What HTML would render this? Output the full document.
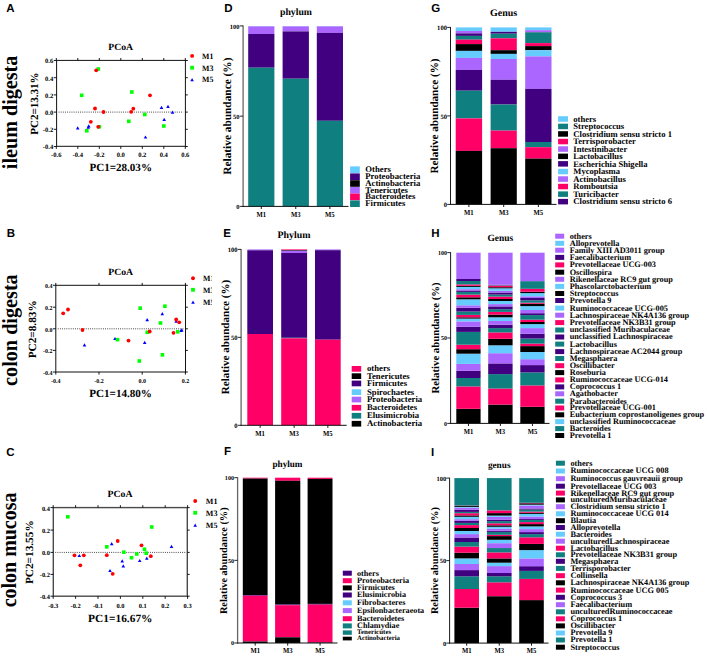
<!DOCTYPE html>
<html><head><meta charset="utf-8"><title>Figure</title>
<style>html,body{margin:0;padding:0;background:#fff}svg{display:block}</style></head>
<body><svg width="708" height="656" viewBox="0 0 708 656" text-rendering="geometricPrecision">
<rect width="708" height="656" fill="#fff"/>
<text x="6.3" y="11.7" font-size="11.5" font-family="Liberation Sans, sans-serif" font-weight="bold">A</text>
<text x="17.3" y="112.4" font-size="21.5" font-family="Liberation Serif, serif" font-weight="bold" text-anchor="middle" textLength="113.6" lengthAdjust="spacingAndGlyphs" transform="rotate(-90 17.3 112.4)">ileum digesta</text>
<rect x="56.6" y="60.4" width="128.8" height="85.9" fill="none" stroke="#111" stroke-width="1.0"/>
<line x1="58.60" y1="112.10" x2="183.40" y2="112.10" stroke="#222" stroke-width="0.9" stroke-dasharray="0.9 1.25"/>
<line x1="56.30" y1="146.30" x2="56.30" y2="148.90" stroke="#000" stroke-width="0.9"/>
<line x1="56.30" y1="60.40" x2="56.30" y2="58.00" stroke="#000" stroke-width="0.9"/>
<text x="56.3" y="156.70000000000002" font-size="6.6" font-family="Liberation Serif, serif" font-weight="bold" text-anchor="middle">-0.6</text>
<line x1="77.80" y1="146.30" x2="77.80" y2="148.90" stroke="#000" stroke-width="0.9"/>
<line x1="77.80" y1="60.40" x2="77.80" y2="58.00" stroke="#000" stroke-width="0.9"/>
<text x="77.8" y="156.70000000000002" font-size="6.6" font-family="Liberation Serif, serif" font-weight="bold" text-anchor="middle">-0.4</text>
<line x1="99.30" y1="146.30" x2="99.30" y2="148.90" stroke="#000" stroke-width="0.9"/>
<line x1="99.30" y1="60.40" x2="99.30" y2="58.00" stroke="#000" stroke-width="0.9"/>
<text x="99.3" y="156.70000000000002" font-size="6.6" font-family="Liberation Serif, serif" font-weight="bold" text-anchor="middle">-0.2</text>
<line x1="120.80" y1="146.30" x2="120.80" y2="148.90" stroke="#000" stroke-width="0.9"/>
<line x1="120.80" y1="60.40" x2="120.80" y2="58.00" stroke="#000" stroke-width="0.9"/>
<text x="120.8" y="156.70000000000002" font-size="6.6" font-family="Liberation Serif, serif" font-weight="bold" text-anchor="middle">0.0</text>
<line x1="142.30" y1="146.30" x2="142.30" y2="148.90" stroke="#000" stroke-width="0.9"/>
<line x1="142.30" y1="60.40" x2="142.30" y2="58.00" stroke="#000" stroke-width="0.9"/>
<text x="142.3" y="156.70000000000002" font-size="6.6" font-family="Liberation Serif, serif" font-weight="bold" text-anchor="middle">0.2</text>
<line x1="163.80" y1="146.30" x2="163.80" y2="148.90" stroke="#000" stroke-width="0.9"/>
<line x1="163.80" y1="60.40" x2="163.80" y2="58.00" stroke="#000" stroke-width="0.9"/>
<text x="163.8" y="156.70000000000002" font-size="6.6" font-family="Liberation Serif, serif" font-weight="bold" text-anchor="middle">0.4</text>
<line x1="185.30" y1="146.30" x2="185.30" y2="148.90" stroke="#000" stroke-width="0.9"/>
<line x1="185.30" y1="60.40" x2="185.30" y2="58.00" stroke="#000" stroke-width="0.9"/>
<text x="185.3" y="156.70000000000002" font-size="6.6" font-family="Liberation Serif, serif" font-weight="bold" text-anchor="middle">0.6</text>
<line x1="56.60" y1="60.50" x2="53.80" y2="60.50" stroke="#000" stroke-width="0.9"/>
<line x1="185.40" y1="60.50" x2="187.80" y2="60.50" stroke="#000" stroke-width="0.9"/>
<text x="53.2" y="63.39999999999999" font-size="6.6" font-family="Liberation Serif, serif" font-weight="bold" text-anchor="end">0.6</text>
<line x1="56.60" y1="77.70" x2="53.80" y2="77.70" stroke="#000" stroke-width="0.9"/>
<line x1="185.40" y1="77.70" x2="187.80" y2="77.70" stroke="#000" stroke-width="0.9"/>
<text x="53.2" y="80.6" font-size="6.6" font-family="Liberation Serif, serif" font-weight="bold" text-anchor="end">0.4</text>
<line x1="56.60" y1="94.90" x2="53.80" y2="94.90" stroke="#000" stroke-width="0.9"/>
<line x1="185.40" y1="94.90" x2="187.80" y2="94.90" stroke="#000" stroke-width="0.9"/>
<text x="53.2" y="97.8" font-size="6.6" font-family="Liberation Serif, serif" font-weight="bold" text-anchor="end">0.2</text>
<line x1="56.60" y1="112.10" x2="53.80" y2="112.10" stroke="#000" stroke-width="0.9"/>
<line x1="185.40" y1="112.10" x2="187.80" y2="112.10" stroke="#000" stroke-width="0.9"/>
<text x="53.2" y="115.0" font-size="6.6" font-family="Liberation Serif, serif" font-weight="bold" text-anchor="end">0.0</text>
<line x1="56.60" y1="129.30" x2="53.80" y2="129.30" stroke="#000" stroke-width="0.9"/>
<line x1="185.40" y1="129.30" x2="187.80" y2="129.30" stroke="#000" stroke-width="0.9"/>
<text x="53.2" y="132.2" font-size="6.6" font-family="Liberation Serif, serif" font-weight="bold" text-anchor="end">-0.2</text>
<line x1="56.60" y1="146.50" x2="53.80" y2="146.50" stroke="#000" stroke-width="0.9"/>
<line x1="185.40" y1="146.50" x2="187.80" y2="146.50" stroke="#000" stroke-width="0.9"/>
<text x="53.2" y="149.4" font-size="6.6" font-family="Liberation Serif, serif" font-weight="bold" text-anchor="end">-0.4</text>
<text x="108.3" y="49.8" font-size="9.6" font-family="Liberation Serif, serif" font-weight="bold" textLength="24.8" lengthAdjust="spacingAndGlyphs">PCoA</text>
<text x="89.4" y="170.6" font-size="11" font-family="Liberation Serif, serif" font-weight="bold" textLength="62.6" lengthAdjust="spacingAndGlyphs">PC1=28.03%</text>
<text x="37.7" y="103.6" font-size="11" font-family="Liberation Serif, serif" font-weight="bold" text-anchor="middle" textLength="62.3" lengthAdjust="spacingAndGlyphs" transform="rotate(-90 37.7 103.6)">PC2=13.31%</text>
<circle cx="192.10" cy="55.90" r="1.95" fill="#ff0000"/>
<text x="202.0" y="58.8" font-size="8.2" font-family="Liberation Serif, serif" font-weight="bold" textLength="11.3" lengthAdjust="spacingAndGlyphs">M1</text>
<rect x="190.20" y="65.80" width="3.8" height="3.8" fill="#00ff00"/>
<text x="202.0" y="70.8" font-size="8.2" font-family="Liberation Serif, serif" font-weight="bold" textLength="11.3" lengthAdjust="spacingAndGlyphs">M3</text>
<polygon points="190.30,81.30 193.90,81.30 192.10,78.10" fill="#0000ff"/>
<text x="202.0" y="82.3" font-size="8.2" font-family="Liberation Serif, serif" font-weight="bold" textLength="11.3" lengthAdjust="spacingAndGlyphs">M5</text>
<rect x="96.50" y="67.20" width="3.6" height="3.6" fill="#00ff00"/>
<rect x="79.90" y="93.50" width="3.6" height="3.6" fill="#00ff00"/>
<rect x="130.00" y="90.20" width="3.6" height="3.6" fill="#00ff00"/>
<rect x="143.00" y="112.70" width="3.6" height="3.6" fill="#00ff00"/>
<rect x="127.00" y="119.50" width="3.6" height="3.6" fill="#00ff00"/>
<rect x="85.00" y="129.00" width="3.6" height="3.6" fill="#00ff00"/>
<rect x="162.00" y="124.20" width="3.6" height="3.6" fill="#00ff00"/>
<rect x="97.50" y="125.00" width="3.6" height="3.6" fill="#00ff00"/>
<polygon points="75.90,129.40 79.50,129.40 77.70,126.20" fill="#0000ff"/>
<polygon points="87.00,127.40 90.60,127.40 88.80,124.20" fill="#0000ff"/>
<polygon points="86.40,128.80 90.00,128.80 88.20,125.60" fill="#0000ff"/>
<polygon points="159.70,109.00 163.30,109.00 161.50,105.80" fill="#0000ff"/>
<polygon points="166.20,107.90 169.80,107.90 168.00,104.70" fill="#0000ff"/>
<polygon points="170.70,113.80 174.30,113.80 172.50,110.60" fill="#0000ff"/>
<polygon points="162.40,121.00 166.00,121.00 164.20,117.80" fill="#0000ff"/>
<polygon points="143.70,138.60 147.30,138.60 145.50,135.40" fill="#0000ff"/>
<circle cx="96.20" cy="70.30" r="1.9" fill="#ff0000"/>
<circle cx="150.00" cy="95.30" r="1.9" fill="#ff0000"/>
<circle cx="95.00" cy="108.50" r="1.9" fill="#ff0000"/>
<circle cx="103.50" cy="112.00" r="1.9" fill="#ff0000"/>
<circle cx="133.30" cy="108.70" r="1.9" fill="#ff0000"/>
<circle cx="131.20" cy="111.80" r="1.9" fill="#ff0000"/>
<circle cx="90.80" cy="121.80" r="1.9" fill="#ff0000"/>
<circle cx="98.20" cy="126.80" r="1.9" fill="#ff0000"/>
<text x="6.8" y="236.7" font-size="11.5" font-family="Liberation Sans, sans-serif" font-weight="bold">B</text>
<text x="16.7" y="330.1" font-size="21.5" font-family="Liberation Serif, serif" font-weight="bold" text-anchor="middle" textLength="111.6" lengthAdjust="spacingAndGlyphs" transform="rotate(-90 16.7 330.1)">colon digesta</text>
<rect x="55.8" y="285.3" width="129.7" height="86.69999999999999" fill="none" stroke="#111" stroke-width="1.0"/>
<line x1="57.80" y1="328.80" x2="183.50" y2="328.80" stroke="#222" stroke-width="0.9" stroke-dasharray="0.9 1.25"/>
<line x1="55.80" y1="372.00" x2="55.80" y2="374.60" stroke="#000" stroke-width="0.9"/>
<line x1="55.80" y1="285.30" x2="55.80" y2="282.90" stroke="#000" stroke-width="0.9"/>
<text x="55.8" y="382.7" font-size="6.0" font-family="Liberation Serif, serif" font-weight="bold" text-anchor="middle">-0.4</text>
<line x1="99.00" y1="372.00" x2="99.00" y2="374.60" stroke="#000" stroke-width="0.9"/>
<line x1="99.00" y1="285.30" x2="99.00" y2="282.90" stroke="#000" stroke-width="0.9"/>
<text x="99.0" y="382.7" font-size="6.0" font-family="Liberation Serif, serif" font-weight="bold" text-anchor="middle">-0.2</text>
<line x1="142.20" y1="372.00" x2="142.20" y2="374.60" stroke="#000" stroke-width="0.9"/>
<line x1="142.20" y1="285.30" x2="142.20" y2="282.90" stroke="#000" stroke-width="0.9"/>
<text x="142.2" y="382.7" font-size="6.0" font-family="Liberation Serif, serif" font-weight="bold" text-anchor="middle">0.0</text>
<line x1="185.40" y1="372.00" x2="185.40" y2="374.60" stroke="#000" stroke-width="0.9"/>
<line x1="185.40" y1="285.30" x2="185.40" y2="282.90" stroke="#000" stroke-width="0.9"/>
<text x="185.4" y="382.7" font-size="6.0" font-family="Liberation Serif, serif" font-weight="bold" text-anchor="middle">0.2</text>
<line x1="55.80" y1="285.30" x2="53.00" y2="285.30" stroke="#000" stroke-width="0.9"/>
<line x1="185.50" y1="285.30" x2="187.90" y2="285.30" stroke="#000" stroke-width="0.9"/>
<text x="52.4" y="288.2" font-size="6.0" font-family="Liberation Serif, serif" font-weight="bold" text-anchor="end">0.4</text>
<line x1="55.80" y1="307.20" x2="53.00" y2="307.20" stroke="#000" stroke-width="0.9"/>
<line x1="185.50" y1="307.20" x2="187.90" y2="307.20" stroke="#000" stroke-width="0.9"/>
<text x="52.4" y="310.09999999999997" font-size="6.0" font-family="Liberation Serif, serif" font-weight="bold" text-anchor="end">0.2</text>
<line x1="55.80" y1="328.80" x2="53.00" y2="328.80" stroke="#000" stroke-width="0.9"/>
<line x1="185.50" y1="328.80" x2="187.90" y2="328.80" stroke="#000" stroke-width="0.9"/>
<text x="52.4" y="331.7" font-size="6.0" font-family="Liberation Serif, serif" font-weight="bold" text-anchor="end">0.0</text>
<line x1="55.80" y1="350.40" x2="53.00" y2="350.40" stroke="#000" stroke-width="0.9"/>
<line x1="185.50" y1="350.40" x2="187.90" y2="350.40" stroke="#000" stroke-width="0.9"/>
<text x="52.4" y="353.29999999999995" font-size="6.0" font-family="Liberation Serif, serif" font-weight="bold" text-anchor="end">-0.2</text>
<line x1="55.80" y1="372.00" x2="53.00" y2="372.00" stroke="#000" stroke-width="0.9"/>
<line x1="185.50" y1="372.00" x2="187.90" y2="372.00" stroke="#000" stroke-width="0.9"/>
<text x="52.4" y="374.9" font-size="6.0" font-family="Liberation Serif, serif" font-weight="bold" text-anchor="end">-0.4</text>
<text x="108.3" y="274.8" font-size="9.6" font-family="Liberation Serif, serif" font-weight="bold" textLength="24.8" lengthAdjust="spacingAndGlyphs">PCoA</text>
<text x="89.2" y="396.5" font-size="11" font-family="Liberation Serif, serif" font-weight="bold" textLength="62.8" lengthAdjust="spacingAndGlyphs">PC1=14.80%</text>
<text x="36.4" y="329.3" font-size="11" font-family="Liberation Serif, serif" font-weight="bold" text-anchor="middle" textLength="58.0" lengthAdjust="spacingAndGlyphs" transform="rotate(-90 36.4 329.3)">PC2=8.83%</text>
<clipPath id="clipB"><rect x="0" y="0" width="211.9" height="656"/></clipPath>
<circle cx="193.00" cy="278.20" r="1.95" fill="#ff0000"/>
<text x="203.0" y="281.0" font-size="8.2" font-family="Liberation Serif, serif" font-weight="bold" textLength="11.3" lengthAdjust="spacingAndGlyphs" clip-path="url(#clipB)">M1</text>
<rect x="191.10" y="287.90" width="3.8" height="3.8" fill="#00ff00"/>
<text x="203.0" y="292.8" font-size="8.2" font-family="Liberation Serif, serif" font-weight="bold" textLength="11.3" lengthAdjust="spacingAndGlyphs" clip-path="url(#clipB)">M3</text>
<polygon points="191.20,303.80 194.80,303.80 193.00,300.60" fill="#0000ff"/>
<text x="203.0" y="304.7" font-size="8.2" font-family="Liberation Serif, serif" font-weight="bold" textLength="11.3" lengthAdjust="spacingAndGlyphs" clip-path="url(#clipB)">M5</text>
<polygon points="82.70,346.40 86.30,346.40 84.50,343.20" fill="#0000ff"/>
<polygon points="113.20,340.10 116.80,340.10 115.00,336.90" fill="#0000ff"/>
<polygon points="145.40,321.30 149.00,321.30 147.20,318.10" fill="#0000ff"/>
<polygon points="142.90,344.00 146.50,344.00 144.70,340.80" fill="#0000ff"/>
<polygon points="160.50,315.30 164.10,315.30 162.30,312.10" fill="#0000ff"/>
<polygon points="174.40,322.80 178.00,322.80 176.20,319.60" fill="#0000ff"/>
<polygon points="180.00,331.40 183.60,331.40 181.80,328.20" fill="#0000ff"/>
<polygon points="179.20,332.10 182.80,332.10 181.00,328.90" fill="#0000ff"/>
<rect x="115.70" y="337.90" width="3.6" height="3.6" fill="#00ff00"/>
<rect x="138.40" y="306.40" width="3.6" height="3.6" fill="#00ff00"/>
<rect x="163.10" y="304.40" width="3.6" height="3.6" fill="#00ff00"/>
<rect x="158.70" y="321.20" width="3.6" height="3.6" fill="#00ff00"/>
<rect x="145.40" y="330.50" width="3.6" height="3.6" fill="#00ff00"/>
<rect x="137.50" y="359.20" width="3.6" height="3.6" fill="#00ff00"/>
<rect x="160.60" y="353.00" width="3.6" height="3.6" fill="#00ff00"/>
<rect x="175.90" y="330.00" width="3.6" height="3.6" fill="#00ff00"/>
<circle cx="63.20" cy="313.30" r="1.9" fill="#ff0000"/>
<circle cx="68.00" cy="309.50" r="1.9" fill="#ff0000"/>
<circle cx="82.50" cy="330.00" r="1.9" fill="#ff0000"/>
<circle cx="128.50" cy="340.60" r="1.9" fill="#ff0000"/>
<circle cx="149.70" cy="331.50" r="1.9" fill="#ff0000"/>
<circle cx="176.20" cy="319.50" r="1.9" fill="#ff0000"/>
<circle cx="179.20" cy="322.30" r="1.9" fill="#ff0000"/>
<circle cx="173.50" cy="332.80" r="1.9" fill="#ff0000"/>
<text x="6.3" y="455.6" font-size="11.5" font-family="Liberation Sans, sans-serif" font-weight="bold">C</text>
<text x="16.4" y="549.95" font-size="21.5" font-family="Liberation Serif, serif" font-weight="bold" text-anchor="middle" textLength="114.8" lengthAdjust="spacingAndGlyphs" transform="rotate(-90 16.4 549.95)">colon mucosa</text>
<rect x="53.3" y="507.6" width="134.0" height="88.60000000000002" fill="none" stroke="#4a4a4a" stroke-width="1.4"/>
<line x1="55.30" y1="552.40" x2="185.30" y2="552.40" stroke="#222" stroke-width="0.9" stroke-dasharray="0.9 1.25"/>
<line x1="53.20" y1="596.20" x2="53.20" y2="598.80" stroke="#000" stroke-width="0.9"/>
<line x1="53.20" y1="507.60" x2="53.20" y2="505.20" stroke="#000" stroke-width="0.9"/>
<text x="53.2" y="607.5" font-size="6.4" font-family="Liberation Serif, serif" font-weight="bold" text-anchor="middle">-0.3</text>
<line x1="75.60" y1="596.20" x2="75.60" y2="598.80" stroke="#000" stroke-width="0.9"/>
<line x1="75.60" y1="507.60" x2="75.60" y2="505.20" stroke="#000" stroke-width="0.9"/>
<text x="75.6" y="607.5" font-size="6.4" font-family="Liberation Serif, serif" font-weight="bold" text-anchor="middle">-0.2</text>
<line x1="98.00" y1="596.20" x2="98.00" y2="598.80" stroke="#000" stroke-width="0.9"/>
<line x1="98.00" y1="507.60" x2="98.00" y2="505.20" stroke="#000" stroke-width="0.9"/>
<text x="98.0" y="607.5" font-size="6.4" font-family="Liberation Serif, serif" font-weight="bold" text-anchor="middle">-0.1</text>
<line x1="120.40" y1="596.20" x2="120.40" y2="598.80" stroke="#000" stroke-width="0.9"/>
<line x1="120.40" y1="507.60" x2="120.40" y2="505.20" stroke="#000" stroke-width="0.9"/>
<text x="120.4" y="607.5" font-size="6.4" font-family="Liberation Serif, serif" font-weight="bold" text-anchor="middle">0.0</text>
<line x1="142.80" y1="596.20" x2="142.80" y2="598.80" stroke="#000" stroke-width="0.9"/>
<line x1="142.80" y1="507.60" x2="142.80" y2="505.20" stroke="#000" stroke-width="0.9"/>
<text x="142.8" y="607.5" font-size="6.4" font-family="Liberation Serif, serif" font-weight="bold" text-anchor="middle">0.1</text>
<line x1="165.20" y1="596.20" x2="165.20" y2="598.80" stroke="#000" stroke-width="0.9"/>
<line x1="165.20" y1="507.60" x2="165.20" y2="505.20" stroke="#000" stroke-width="0.9"/>
<text x="165.20000000000002" y="607.5" font-size="6.4" font-family="Liberation Serif, serif" font-weight="bold" text-anchor="middle">0.2</text>
<line x1="187.60" y1="596.20" x2="187.60" y2="598.80" stroke="#000" stroke-width="0.9"/>
<line x1="187.60" y1="507.60" x2="187.60" y2="505.20" stroke="#000" stroke-width="0.9"/>
<text x="187.60000000000002" y="607.5" font-size="6.4" font-family="Liberation Serif, serif" font-weight="bold" text-anchor="middle">0.3</text>
<line x1="53.30" y1="507.60" x2="50.50" y2="507.60" stroke="#000" stroke-width="0.9"/>
<line x1="187.30" y1="507.60" x2="189.70" y2="507.60" stroke="#000" stroke-width="0.9"/>
<text x="49.9" y="510.5" font-size="6.4" font-family="Liberation Serif, serif" font-weight="bold" text-anchor="end">0.4</text>
<line x1="53.30" y1="530.10" x2="50.50" y2="530.10" stroke="#000" stroke-width="0.9"/>
<line x1="187.30" y1="530.10" x2="189.70" y2="530.10" stroke="#000" stroke-width="0.9"/>
<text x="49.9" y="533.0" font-size="6.4" font-family="Liberation Serif, serif" font-weight="bold" text-anchor="end">0.2</text>
<line x1="53.30" y1="552.40" x2="50.50" y2="552.40" stroke="#000" stroke-width="0.9"/>
<line x1="187.30" y1="552.40" x2="189.70" y2="552.40" stroke="#000" stroke-width="0.9"/>
<text x="49.9" y="555.3" font-size="6.4" font-family="Liberation Serif, serif" font-weight="bold" text-anchor="end">0.0</text>
<line x1="53.30" y1="574.40" x2="50.50" y2="574.40" stroke="#000" stroke-width="0.9"/>
<line x1="187.30" y1="574.40" x2="189.70" y2="574.40" stroke="#000" stroke-width="0.9"/>
<text x="49.9" y="577.3" font-size="6.4" font-family="Liberation Serif, serif" font-weight="bold" text-anchor="end">-0.2</text>
<line x1="53.30" y1="596.20" x2="50.50" y2="596.20" stroke="#000" stroke-width="0.9"/>
<line x1="187.30" y1="596.20" x2="189.70" y2="596.20" stroke="#000" stroke-width="0.9"/>
<text x="49.9" y="599.1" font-size="6.4" font-family="Liberation Serif, serif" font-weight="bold" text-anchor="end">-0.4</text>
<text x="107.5" y="496.8" font-size="9.6" font-family="Liberation Serif, serif" font-weight="bold" textLength="25" lengthAdjust="spacingAndGlyphs">PCoA</text>
<text x="88.1" y="621.5" font-size="11" font-family="Liberation Serif, serif" font-weight="bold" textLength="64.4" lengthAdjust="spacingAndGlyphs">PC1=16.67%</text>
<text x="33.5" y="552.2" font-size="11" font-family="Liberation Serif, serif" font-weight="bold" text-anchor="middle" textLength="63.8" lengthAdjust="spacingAndGlyphs" transform="rotate(-90 33.5 552.2)">PC2=13.55%</text>
<circle cx="195.20" cy="501.00" r="1.95" fill="#ff0000"/>
<text x="205.8" y="503.7" font-size="8.2" font-family="Liberation Serif, serif" font-weight="bold" textLength="11.7" lengthAdjust="spacingAndGlyphs">M1</text>
<rect x="193.30" y="510.90" width="3.8" height="3.8" fill="#00ff00"/>
<text x="205.8" y="515.7" font-size="8.2" font-family="Liberation Serif, serif" font-weight="bold" textLength="11.7" lengthAdjust="spacingAndGlyphs">M3</text>
<polygon points="193.40,526.80 197.00,526.80 195.20,523.60" fill="#0000ff"/>
<text x="205.8" y="527.7" font-size="8.2" font-family="Liberation Serif, serif" font-weight="bold" textLength="11.7" lengthAdjust="spacingAndGlyphs">M5</text>
<rect x="66.00" y="515.00" width="3.6" height="3.6" fill="#00ff00"/>
<rect x="105.00" y="545.00" width="3.6" height="3.6" fill="#00ff00"/>
<rect x="122.00" y="550.40" width="3.6" height="3.6" fill="#00ff00"/>
<rect x="129.70" y="555.90" width="3.6" height="3.6" fill="#00ff00"/>
<rect x="135.00" y="552.20" width="3.6" height="3.6" fill="#00ff00"/>
<rect x="142.70" y="547.40" width="3.6" height="3.6" fill="#00ff00"/>
<rect x="144.40" y="551.40" width="3.6" height="3.6" fill="#00ff00"/>
<rect x="149.90" y="525.20" width="3.6" height="3.6" fill="#00ff00"/>
<polygon points="77.50,557.10 81.10,557.10 79.30,553.90" fill="#0000ff"/>
<polygon points="109.90,545.30 113.50,545.30 111.70,542.10" fill="#0000ff"/>
<polygon points="108.20,572.10 111.80,572.10 110.00,568.90" fill="#0000ff"/>
<polygon points="120.40,562.40 124.00,562.40 122.20,559.20" fill="#0000ff"/>
<polygon points="121.50,567.40 125.10,567.40 123.30,564.20" fill="#0000ff"/>
<polygon points="137.90,562.10 141.50,562.10 139.70,558.90" fill="#0000ff"/>
<polygon points="145.00,559.80 148.60,559.80 146.80,556.60" fill="#0000ff"/>
<polygon points="169.70,547.90 173.30,547.90 171.50,544.70" fill="#0000ff"/>
<circle cx="74.50" cy="555.30" r="1.9" fill="#ff0000"/>
<circle cx="83.80" cy="555.30" r="1.9" fill="#ff0000"/>
<circle cx="80.30" cy="565.30" r="1.9" fill="#ff0000"/>
<circle cx="106.80" cy="555.20" r="1.9" fill="#ff0000"/>
<circle cx="117.70" cy="541.00" r="1.9" fill="#ff0000"/>
<circle cx="112.70" cy="573.80" r="1.9" fill="#ff0000"/>
<circle cx="141.50" cy="545.30" r="1.9" fill="#ff0000"/>
<circle cx="150.80" cy="556.20" r="1.9" fill="#ff0000"/>
<text x="224.2" y="11.7" font-size="11.5" font-family="Liberation Sans, sans-serif" font-weight="bold">D</text>
<text x="280" y="14.7" font-size="9.8" font-family="Liberation Serif, serif" font-weight="bold" textLength="32" lengthAdjust="spacingAndGlyphs">phylum</text>
<rect x="248.20" y="26.00" width="26.20" height="0.40" fill="#66ccfe"/>
<rect x="248.20" y="26.40" width="26.20" height="7.60" fill="#aa66ff"/>
<rect x="248.20" y="34.00" width="26.20" height="33.70" fill="#40007f"/>
<rect x="248.20" y="67.70" width="26.20" height="138.70" fill="#107f80"/>
<rect x="282.60" y="26.00" width="26.30" height="0.40" fill="#66ccfe"/>
<rect x="282.60" y="26.40" width="26.30" height="5.00" fill="#aa66ff"/>
<rect x="282.60" y="31.40" width="26.30" height="47.30" fill="#40007f"/>
<rect x="282.60" y="78.70" width="26.30" height="127.70" fill="#107f80"/>
<rect x="316.80" y="26.00" width="26.20" height="0.40" fill="#66ccfe"/>
<rect x="316.80" y="26.40" width="26.20" height="6.50" fill="#aa66ff"/>
<rect x="316.80" y="32.90" width="26.20" height="87.90" fill="#40007f"/>
<rect x="316.80" y="120.80" width="26.20" height="85.60" fill="#107f80"/>
<line x1="243.10" y1="25.50" x2="243.10" y2="206.90" stroke="#666" stroke-width="1.3"/>
<line x1="242.60" y1="206.40" x2="348.50" y2="206.40" stroke="#111" stroke-width="1.0"/>
<line x1="243.10" y1="25.90" x2="239.80" y2="25.90" stroke="#111" stroke-width="0.9"/>
<text x="239.6" y="28.799999999999997" font-size="6.5" font-family="Liberation Serif, serif" font-weight="bold" text-anchor="end">100</text>
<line x1="243.10" y1="116.15" x2="239.80" y2="116.15" stroke="#111" stroke-width="0.9"/>
<text x="239.6" y="119.05000000000001" font-size="6.5" font-family="Liberation Serif, serif" font-weight="bold" text-anchor="end">50</text>
<line x1="243.10" y1="206.40" x2="239.80" y2="206.40" stroke="#111" stroke-width="0.9"/>
<text x="239.6" y="209.3" font-size="6.5" font-family="Liberation Serif, serif" font-weight="bold" text-anchor="end">0</text>
<line x1="261.30" y1="206.40" x2="261.30" y2="209.00" stroke="#000" stroke-width="0.9"/>
<text x="261.29999999999995" y="216.70000000000002" font-size="7.6" font-family="Liberation Serif, serif" font-weight="bold" text-anchor="middle" textLength="9.6" lengthAdjust="spacingAndGlyphs">M1</text>
<line x1="295.75" y1="206.40" x2="295.75" y2="209.00" stroke="#000" stroke-width="0.9"/>
<text x="295.75" y="216.70000000000002" font-size="7.6" font-family="Liberation Serif, serif" font-weight="bold" text-anchor="middle" textLength="9.6" lengthAdjust="spacingAndGlyphs">M3</text>
<line x1="329.90" y1="206.40" x2="329.90" y2="209.00" stroke="#000" stroke-width="0.9"/>
<text x="329.9" y="216.70000000000002" font-size="7.6" font-family="Liberation Serif, serif" font-weight="bold" text-anchor="middle" textLength="9.6" lengthAdjust="spacingAndGlyphs">M5</text>
<text x="230.6" y="116.15" font-size="11.3" font-family="Liberation Serif, serif" font-weight="bold" text-anchor="middle" textLength="117.2" lengthAdjust="spacingAndGlyphs" transform="rotate(-90 230.6 116.15)">Relative abundance (%)</text>
<rect x="350.10" y="166.40" width="9.70" height="6.60" fill="#66ccfe"/>
<text x="365.3" y="172.0" font-size="8.7" font-family="Liberation Serif, serif" font-weight="bold">Others</text>
<rect x="350.10" y="173.40" width="9.70" height="6.60" fill="#40007f"/>
<text x="365.3" y="179.0" font-size="8.7" font-family="Liberation Serif, serif" font-weight="bold" textLength="55" lengthAdjust="spacingAndGlyphs">Proteobacteria</text>
<rect x="350.10" y="180.20" width="9.70" height="6.60" fill="#000000"/>
<text x="365.3" y="185.8" font-size="8.7" font-family="Liberation Serif, serif" font-weight="bold">Actinobacteria</text>
<rect x="350.10" y="187.00" width="9.70" height="6.60" fill="#aa66ff"/>
<text x="365.3" y="192.6" font-size="8.7" font-family="Liberation Serif, serif" font-weight="bold">Tenericutes</text>
<rect x="350.10" y="193.60" width="9.70" height="6.60" fill="#ff0066"/>
<text x="365.3" y="199.2" font-size="8.7" font-family="Liberation Serif, serif" font-weight="bold">Bacteroidetes</text>
<rect x="350.10" y="200.40" width="9.70" height="6.60" fill="#107f80"/>
<text x="365.3" y="206.0" font-size="8.7" font-family="Liberation Serif, serif" font-weight="bold">Firmicutes</text>
<text x="223.2" y="237.0" font-size="11.5" font-family="Liberation Sans, sans-serif" font-weight="bold">E</text>
<text x="277.5" y="237.7" font-size="9.8" font-family="Liberation Serif, serif" font-weight="bold" textLength="33" lengthAdjust="spacingAndGlyphs">Phylum</text>
<rect x="247.30" y="249.40" width="25.70" height="0.90" fill="#aa66ff"/>
<rect x="247.30" y="250.30" width="25.70" height="83.70" fill="#40007f"/>
<rect x="247.30" y="334.00" width="25.70" height="91.30" fill="#ff0066"/>
<rect x="281.20" y="249.40" width="25.90" height="0.70" fill="#ff0066"/>
<rect x="281.20" y="250.10" width="25.90" height="0.70" fill="#000000"/>
<rect x="281.20" y="250.80" width="25.90" height="2.20" fill="#aa66ff"/>
<rect x="281.20" y="253.00" width="25.90" height="84.80" fill="#40007f"/>
<rect x="281.20" y="337.80" width="25.90" height="0.50" fill="#107f80"/>
<rect x="281.20" y="338.30" width="25.90" height="87.00" fill="#ff0066"/>
<rect x="315.00" y="249.40" width="25.70" height="0.80" fill="#aa66ff"/>
<rect x="315.00" y="250.20" width="25.70" height="89.50" fill="#40007f"/>
<rect x="315.00" y="339.70" width="25.70" height="85.60" fill="#ff0066"/>
<line x1="241.10" y1="249.00" x2="241.10" y2="425.80" stroke="#666" stroke-width="1.3"/>
<line x1="240.60" y1="425.30" x2="346.70" y2="425.30" stroke="#111" stroke-width="1.0"/>
<line x1="241.10" y1="249.40" x2="237.80" y2="249.40" stroke="#111" stroke-width="0.9"/>
<text x="237.6" y="251.8" font-size="6.6" font-family="Liberation Serif, serif" font-weight="bold" text-anchor="end">100</text>
<line x1="241.10" y1="337.35" x2="237.80" y2="337.35" stroke="#111" stroke-width="0.9"/>
<text x="237.6" y="339.75" font-size="6.6" font-family="Liberation Serif, serif" font-weight="bold" text-anchor="end">50</text>
<line x1="241.10" y1="425.30" x2="237.80" y2="425.30" stroke="#111" stroke-width="0.9"/>
<text x="237.6" y="427.7" font-size="6.6" font-family="Liberation Serif, serif" font-weight="bold" text-anchor="end">0</text>
<line x1="260.15" y1="425.30" x2="260.15" y2="427.90" stroke="#000" stroke-width="0.9"/>
<text x="260.15" y="435.7" font-size="7.6" font-family="Liberation Serif, serif" font-weight="bold" text-anchor="middle" textLength="9.6" lengthAdjust="spacingAndGlyphs">M1</text>
<line x1="294.15" y1="425.30" x2="294.15" y2="427.90" stroke="#000" stroke-width="0.9"/>
<text x="294.15" y="435.7" font-size="7.6" font-family="Liberation Serif, serif" font-weight="bold" text-anchor="middle" textLength="9.6" lengthAdjust="spacingAndGlyphs">M3</text>
<line x1="327.85" y1="425.30" x2="327.85" y2="427.90" stroke="#000" stroke-width="0.9"/>
<text x="327.85" y="435.7" font-size="7.6" font-family="Liberation Serif, serif" font-weight="bold" text-anchor="middle" textLength="9.6" lengthAdjust="spacingAndGlyphs">M5</text>
<text x="228.7" y="337.0" font-size="11.0" font-family="Liberation Serif, serif" font-weight="bold" text-anchor="middle" textLength="114.4" lengthAdjust="spacingAndGlyphs" transform="rotate(-90 228.7 337.0)">Relative abundance (%)</text>
<rect x="351.70" y="366.00" width="9.50" height="5.70" fill="#ff0066"/>
<text x="367.0" y="371.4" font-size="8.7" font-family="Liberation Serif, serif" font-weight="bold">others</text>
<rect x="351.70" y="373.30" width="9.50" height="5.70" fill="#000000"/>
<text x="367.0" y="378.7" font-size="8.7" font-family="Liberation Serif, serif" font-weight="bold">Tenericutes</text>
<rect x="351.70" y="380.60" width="9.50" height="5.70" fill="#40007f"/>
<text x="367.0" y="386.0" font-size="8.7" font-family="Liberation Serif, serif" font-weight="bold">Firmicutes</text>
<rect x="351.70" y="389.30" width="9.50" height="5.70" fill="#66ccfe"/>
<text x="367.0" y="394.7" font-size="8.7" font-family="Liberation Serif, serif" font-weight="bold">Spirochaetes</text>
<rect x="351.70" y="396.70" width="9.50" height="5.70" fill="#aa66ff"/>
<text x="367.0" y="402.1" font-size="8.7" font-family="Liberation Serif, serif" font-weight="bold" textLength="55.2" lengthAdjust="spacingAndGlyphs">Proteobacteria</text>
<rect x="351.70" y="404.90" width="9.50" height="5.70" fill="#ff0066"/>
<text x="367.0" y="410.3" font-size="8.7" font-family="Liberation Serif, serif" font-weight="bold">Bacteroidetes</text>
<rect x="351.70" y="412.90" width="9.50" height="5.70" fill="#107f80"/>
<text x="367.0" y="418.3" font-size="8.7" font-family="Liberation Serif, serif" font-weight="bold">Elusimicrobia</text>
<rect x="351.70" y="420.90" width="9.50" height="5.70" fill="#000000"/>
<text x="367.0" y="426.3" font-size="8.7" font-family="Liberation Serif, serif" font-weight="bold">Actinobacteria</text>
<text x="224.1" y="455.4" font-size="11.5" font-family="Liberation Sans, sans-serif" font-weight="bold">F</text>
<text x="272.5" y="467.25" font-size="9.3" font-family="Liberation Serif, serif" font-weight="bold" textLength="30" lengthAdjust="spacingAndGlyphs">phylum</text>
<rect x="242.80" y="477.70" width="24.80" height="0.90" fill="#ff0066"/>
<rect x="242.80" y="478.60" width="24.80" height="116.40" fill="#000000"/>
<rect x="242.80" y="595.00" width="24.80" height="0.70" fill="#40007f"/>
<rect x="242.80" y="595.70" width="24.80" height="45.80" fill="#ff0066"/>
<rect x="242.80" y="641.50" width="24.80" height="1.50" fill="#000000"/>
<rect x="275.10" y="477.70" width="25.20" height="3.10" fill="#ff0066"/>
<rect x="275.10" y="480.80" width="25.20" height="123.70" fill="#000000"/>
<rect x="275.10" y="604.50" width="25.20" height="0.70" fill="#40007f"/>
<rect x="275.10" y="605.20" width="25.20" height="32.10" fill="#ff0066"/>
<rect x="275.10" y="637.30" width="25.20" height="5.70" fill="#000000"/>
<rect x="307.60" y="477.70" width="24.90" height="1.20" fill="#ff0066"/>
<rect x="307.60" y="478.90" width="24.90" height="125.00" fill="#000000"/>
<rect x="307.60" y="603.90" width="24.90" height="0.70" fill="#40007f"/>
<rect x="307.60" y="604.60" width="24.90" height="38.00" fill="#ff0066"/>
<rect x="307.60" y="642.60" width="24.90" height="0.40" fill="#000000"/>
<line x1="237.60" y1="477.30" x2="237.60" y2="643.50" stroke="#666" stroke-width="1.3"/>
<line x1="237.10" y1="643.00" x2="337.50" y2="643.00" stroke="#111" stroke-width="1.0"/>
<line x1="237.60" y1="477.70" x2="234.30" y2="477.70" stroke="#111" stroke-width="0.9"/>
<text x="234.1" y="480.09999999999997" font-size="6.2" font-family="Liberation Serif, serif" font-weight="bold" text-anchor="end">100</text>
<line x1="237.60" y1="560.35" x2="234.30" y2="560.35" stroke="#111" stroke-width="0.9"/>
<text x="234.1" y="562.75" font-size="6.2" font-family="Liberation Serif, serif" font-weight="bold" text-anchor="end">50</text>
<line x1="237.60" y1="643.00" x2="234.30" y2="643.00" stroke="#111" stroke-width="0.9"/>
<text x="234.1" y="645.4" font-size="6.2" font-family="Liberation Serif, serif" font-weight="bold" text-anchor="end">0</text>
<line x1="255.20" y1="643.00" x2="255.20" y2="645.60" stroke="#000" stroke-width="0.9"/>
<text x="255.20000000000002" y="653.0999999999999" font-size="7.6" font-family="Liberation Serif, serif" font-weight="bold" text-anchor="middle" textLength="9.6" lengthAdjust="spacingAndGlyphs">M1</text>
<line x1="287.70" y1="643.00" x2="287.70" y2="645.60" stroke="#000" stroke-width="0.9"/>
<text x="287.70000000000005" y="653.0999999999999" font-size="7.6" font-family="Liberation Serif, serif" font-weight="bold" text-anchor="middle" textLength="9.6" lengthAdjust="spacingAndGlyphs">M3</text>
<line x1="320.05" y1="643.00" x2="320.05" y2="645.60" stroke="#000" stroke-width="0.9"/>
<text x="320.05" y="653.0999999999999" font-size="7.6" font-family="Liberation Serif, serif" font-weight="bold" text-anchor="middle" textLength="9.6" lengthAdjust="spacingAndGlyphs">M5</text>
<text x="226.6" y="560.75" font-size="10.3" font-family="Liberation Serif, serif" font-weight="bold" text-anchor="middle" textLength="106.7" lengthAdjust="spacingAndGlyphs" transform="rotate(-90 226.6 560.75)">Relative abundance (%)</text>
<rect x="342.80" y="570.70" width="9.00" height="5.00" fill="#40007f"/>
<text x="357.0" y="575.6" font-size="8.2" font-family="Liberation Serif, serif" font-weight="bold">others</text>
<rect x="342.80" y="578.20" width="9.00" height="5.00" fill="#ff0066"/>
<text x="357.0" y="583.1" font-size="8.2" font-family="Liberation Serif, serif" font-weight="bold" textLength="52.2" lengthAdjust="spacingAndGlyphs">Proteobacteria</text>
<rect x="342.80" y="585.40" width="9.00" height="5.00" fill="#000000"/>
<text x="357.0" y="590.3" font-size="8.2" font-family="Liberation Serif, serif" font-weight="bold">Firmicutes</text>
<rect x="342.80" y="592.50" width="9.00" height="5.00" fill="#40007f"/>
<text x="357.0" y="597.4" font-size="8.2" font-family="Liberation Serif, serif" font-weight="bold">Elusimicrobia</text>
<rect x="342.80" y="600.30" width="9.00" height="5.00" fill="#66ccfe"/>
<text x="357.0" y="605.2" font-size="8.2" font-family="Liberation Serif, serif" font-weight="bold">Fibrobacteres</text>
<rect x="342.80" y="608.10" width="9.00" height="5.00" fill="#aa66ff"/>
<text x="357.0" y="613.0" font-size="8.2" font-family="Liberation Serif, serif" font-weight="bold" textLength="67.2" lengthAdjust="spacingAndGlyphs">Epsilonbacteraeota</text>
<rect x="342.80" y="616.20" width="9.00" height="5.00" fill="#ff0066"/>
<text x="357.0" y="621.1" font-size="8.2" font-family="Liberation Serif, serif" font-weight="bold">Bacteroidetes</text>
<rect x="342.80" y="623.40" width="9.00" height="5.00" fill="#107f80"/>
<text x="357.0" y="628.3" font-size="8.2" font-family="Liberation Serif, serif" font-weight="bold">Chlamydiae</text>
<rect x="342.80" y="630.40" width="9.00" height="4.40" fill="#107f80"/>
<text x="357.0" y="634.3" font-size="6.85" font-family="Liberation Serif, serif" font-weight="bold" textLength="34.2" lengthAdjust="spacingAndGlyphs">Tenericutes</text>
<rect x="342.80" y="636.70" width="9.00" height="3.70" fill="#000000"/>
<text x="357.0" y="640.3" font-size="6.85" font-family="Liberation Serif, serif" font-weight="bold" textLength="43" lengthAdjust="spacingAndGlyphs">Actinobacteria</text>
<text x="431.2" y="11.8" font-size="11.5" font-family="Liberation Sans, sans-serif" font-weight="bold">G</text>
<text x="490.1" y="15.8" font-size="9.9" font-family="Liberation Serif, serif" font-weight="bold" textLength="27.1" lengthAdjust="spacingAndGlyphs">Genus</text>
<rect x="455.70" y="27.40" width="26.40" height="3.60" fill="#66ccfe"/>
<rect x="455.70" y="31.00" width="26.40" height="2.40" fill="#aa66ff"/>
<rect x="455.70" y="33.40" width="26.40" height="2.50" fill="#40007f"/>
<rect x="455.70" y="35.90" width="26.40" height="3.80" fill="#107f80"/>
<rect x="455.70" y="39.70" width="26.40" height="4.40" fill="#ff0066"/>
<rect x="455.70" y="44.10" width="26.40" height="6.80" fill="#000000"/>
<rect x="455.70" y="50.90" width="26.40" height="7.00" fill="#66ccfe"/>
<rect x="455.70" y="57.90" width="26.40" height="12.00" fill="#aa66ff"/>
<rect x="455.70" y="69.90" width="26.40" height="20.80" fill="#40007f"/>
<rect x="455.70" y="90.70" width="26.40" height="27.70" fill="#107f80"/>
<rect x="455.70" y="118.40" width="26.40" height="32.50" fill="#ff0066"/>
<rect x="455.70" y="150.90" width="26.40" height="53.50" fill="#000000"/>
<rect x="490.60" y="27.40" width="26.20" height="4.40" fill="#66ccfe"/>
<rect x="490.60" y="31.80" width="26.20" height="0.05" fill="#aa66ff"/>
<rect x="490.60" y="31.85" width="26.20" height="1.85" fill="#40007f"/>
<rect x="490.60" y="33.70" width="26.20" height="4.60" fill="#107f80"/>
<rect x="490.60" y="38.30" width="26.20" height="11.90" fill="#ff0066"/>
<rect x="490.60" y="50.20" width="26.20" height="3.70" fill="#000000"/>
<rect x="490.60" y="53.90" width="26.20" height="5.10" fill="#66ccfe"/>
<rect x="490.60" y="59.00" width="26.20" height="20.80" fill="#aa66ff"/>
<rect x="490.60" y="79.80" width="26.20" height="24.70" fill="#40007f"/>
<rect x="490.60" y="104.50" width="26.20" height="26.10" fill="#107f80"/>
<rect x="490.60" y="130.60" width="26.20" height="17.60" fill="#ff0066"/>
<rect x="490.60" y="148.20" width="26.20" height="56.20" fill="#000000"/>
<rect x="525.20" y="27.40" width="26.30" height="2.80" fill="#66ccfe"/>
<rect x="525.20" y="30.20" width="26.30" height="1.80" fill="#aa66ff"/>
<rect x="525.20" y="32.00" width="26.30" height="0.40" fill="#40007f"/>
<rect x="525.20" y="32.40" width="26.30" height="10.70" fill="#107f80"/>
<rect x="525.20" y="43.10" width="26.30" height="3.00" fill="#ff0066"/>
<rect x="525.20" y="46.10" width="26.30" height="4.10" fill="#000000"/>
<rect x="525.20" y="50.20" width="26.30" height="6.20" fill="#66ccfe"/>
<rect x="525.20" y="56.40" width="26.30" height="32.50" fill="#aa66ff"/>
<rect x="525.20" y="88.90" width="26.30" height="53.10" fill="#40007f"/>
<rect x="525.20" y="142.00" width="26.30" height="5.20" fill="#107f80"/>
<rect x="525.20" y="147.20" width="26.30" height="11.40" fill="#ff0066"/>
<rect x="525.20" y="158.60" width="26.30" height="45.80" fill="#000000"/>
<line x1="450.50" y1="27.00" x2="450.50" y2="204.90" stroke="#000" stroke-width="0.9"/>
<line x1="450.00" y1="204.40" x2="556.50" y2="204.40" stroke="#111" stroke-width="1.0"/>
<line x1="450.50" y1="27.40" x2="447.20" y2="27.40" stroke="#111" stroke-width="0.9"/>
<text x="447.0" y="30.2" font-size="6.6" font-family="Liberation Serif, serif" font-weight="bold" text-anchor="end">100</text>
<line x1="450.50" y1="115.90" x2="447.20" y2="115.90" stroke="#111" stroke-width="0.9"/>
<text x="447.0" y="118.7" font-size="6.6" font-family="Liberation Serif, serif" font-weight="bold" text-anchor="end">50</text>
<line x1="450.50" y1="204.40" x2="447.20" y2="204.40" stroke="#111" stroke-width="0.9"/>
<text x="447.0" y="207.20000000000002" font-size="6.6" font-family="Liberation Serif, serif" font-weight="bold" text-anchor="end">0</text>
<line x1="468.90" y1="204.40" x2="468.90" y2="207.00" stroke="#000" stroke-width="0.9"/>
<text x="468.9" y="214.9" font-size="7.6" font-family="Liberation Serif, serif" font-weight="bold" text-anchor="middle" textLength="9.6" lengthAdjust="spacingAndGlyphs">M1</text>
<line x1="503.70" y1="204.40" x2="503.70" y2="207.00" stroke="#000" stroke-width="0.9"/>
<text x="503.7" y="214.9" font-size="7.6" font-family="Liberation Serif, serif" font-weight="bold" text-anchor="middle" textLength="9.6" lengthAdjust="spacingAndGlyphs">M3</text>
<line x1="538.35" y1="204.40" x2="538.35" y2="207.00" stroke="#000" stroke-width="0.9"/>
<text x="538.35" y="214.9" font-size="7.6" font-family="Liberation Serif, serif" font-weight="bold" text-anchor="middle" textLength="9.6" lengthAdjust="spacingAndGlyphs">M5</text>
<text x="438.4" y="115.95" font-size="11.1" font-family="Liberation Serif, serif" font-weight="bold" text-anchor="middle" textLength="114.9" lengthAdjust="spacingAndGlyphs" transform="rotate(-90 438.4 115.95)">Relative abundance (%)</text>
<rect x="558.10" y="116.20" width="9.90" height="5.50" fill="#66ccfe"/>
<text x="573.3" y="121.6" font-size="8.6" font-family="Liberation Serif, serif" font-weight="bold">others</text>
<rect x="558.10" y="123.70" width="9.90" height="5.50" fill="#107f80"/>
<text x="573.3" y="129.1" font-size="8.6" font-family="Liberation Serif, serif" font-weight="bold">Streptococcus</text>
<rect x="558.10" y="131.20" width="9.90" height="5.50" fill="#000000"/>
<text x="573.3" y="136.6" font-size="8.6" font-family="Liberation Serif, serif" font-weight="bold" textLength="98.7" lengthAdjust="spacingAndGlyphs">Clostridium sensu stricto 1</text>
<rect x="558.10" y="138.80" width="9.90" height="5.50" fill="#ff0066"/>
<text x="573.3" y="144.2" font-size="8.6" font-family="Liberation Serif, serif" font-weight="bold">Terrisporobacter</text>
<rect x="558.10" y="146.30" width="9.90" height="5.50" fill="#aa66ff"/>
<text x="573.3" y="151.7" font-size="8.6" font-family="Liberation Serif, serif" font-weight="bold">Intestinibacter</text>
<rect x="558.10" y="153.60" width="9.90" height="5.50" fill="#000000"/>
<text x="573.3" y="159.0" font-size="8.6" font-family="Liberation Serif, serif" font-weight="bold">Lactobacillus</text>
<rect x="558.10" y="161.10" width="9.90" height="5.50" fill="#40007f"/>
<text x="573.3" y="166.5" font-size="8.6" font-family="Liberation Serif, serif" font-weight="bold">Escherichia Shigella</text>
<rect x="558.10" y="168.80" width="9.90" height="5.50" fill="#66ccfe"/>
<text x="573.3" y="174.2" font-size="8.6" font-family="Liberation Serif, serif" font-weight="bold">Mycoplasma</text>
<rect x="558.10" y="176.30" width="9.90" height="5.50" fill="#aa66ff"/>
<text x="573.3" y="181.7" font-size="8.6" font-family="Liberation Serif, serif" font-weight="bold">Actinobacillus</text>
<rect x="558.10" y="183.80" width="9.90" height="5.50" fill="#ff0066"/>
<text x="573.3" y="189.2" font-size="8.6" font-family="Liberation Serif, serif" font-weight="bold">Romboutsia</text>
<rect x="558.10" y="191.40" width="9.90" height="5.50" fill="#107f80"/>
<text x="573.3" y="196.8" font-size="8.6" font-family="Liberation Serif, serif" font-weight="bold">Turicibacter</text>
<rect x="558.10" y="198.90" width="9.90" height="5.50" fill="#40007f"/>
<text x="573.3" y="204.3" font-size="8.6" font-family="Liberation Serif, serif" font-weight="bold" textLength="98.7" lengthAdjust="spacingAndGlyphs">Clostridium sensu stricto 6</text>
<text x="431.2" y="236.5" font-size="11.5" font-family="Liberation Sans, sans-serif" font-weight="bold">H</text>
<text x="487.5" y="241.4" font-size="9.6" font-family="Liberation Serif, serif" font-weight="bold" textLength="25.8" lengthAdjust="spacingAndGlyphs">Genus</text>
<rect x="456.30" y="408.80" width="24.30" height="14.60" fill="#000000"/>
<rect x="456.30" y="386.40" width="24.30" height="22.40" fill="#ff0066"/>
<rect x="456.30" y="378.00" width="24.30" height="8.40" fill="#107f80"/>
<rect x="456.30" y="370.70" width="24.30" height="7.30" fill="#40007f"/>
<rect x="456.30" y="363.90" width="24.30" height="6.80" fill="#aa66ff"/>
<rect x="456.30" y="353.70" width="24.30" height="10.20" fill="#66ccfe"/>
<rect x="456.30" y="349.20" width="24.30" height="4.50" fill="#000000"/>
<rect x="456.30" y="344.70" width="24.30" height="4.50" fill="#ff0066"/>
<rect x="456.30" y="331.90" width="24.30" height="12.80" fill="#107f80"/>
<rect x="456.30" y="326.80" width="24.30" height="5.10" fill="#40007f"/>
<rect x="456.30" y="321.40" width="24.30" height="5.40" fill="#aa66ff"/>
<rect x="456.30" y="318.60" width="24.30" height="2.80" fill="#66ccfe"/>
<rect x="456.30" y="317.30" width="24.30" height="1.30" fill="#000000"/>
<rect x="456.30" y="314.90" width="24.30" height="2.40" fill="#ff0066"/>
<rect x="456.30" y="311.50" width="24.30" height="3.40" fill="#107f80"/>
<rect x="456.30" y="307.80" width="24.30" height="3.70" fill="#40007f"/>
<rect x="456.30" y="305.30" width="24.30" height="2.50" fill="#aa66ff"/>
<rect x="456.30" y="299.30" width="24.30" height="6.00" fill="#66ccfe"/>
<rect x="456.30" y="297.30" width="24.30" height="2.00" fill="#000000"/>
<rect x="456.30" y="294.60" width="24.30" height="2.70" fill="#ff0066"/>
<rect x="456.30" y="291.90" width="24.30" height="2.70" fill="#107f80"/>
<rect x="456.30" y="290.50" width="24.30" height="1.40" fill="#40007f"/>
<rect x="456.30" y="289.20" width="24.30" height="1.30" fill="#aa66ff"/>
<rect x="456.30" y="286.90" width="24.30" height="2.30" fill="#66ccfe"/>
<rect x="456.30" y="285.80" width="24.30" height="1.10" fill="#000000"/>
<rect x="456.30" y="284.40" width="24.30" height="1.40" fill="#ff0066"/>
<rect x="456.30" y="281.00" width="24.30" height="3.40" fill="#107f80"/>
<rect x="456.30" y="279.00" width="24.30" height="2.00" fill="#40007f"/>
<rect x="456.30" y="252.70" width="24.30" height="26.30" fill="#aa66ff"/>
<rect x="488.20" y="404.60" width="24.40" height="18.80" fill="#000000"/>
<rect x="488.20" y="388.50" width="24.40" height="16.10" fill="#ff0066"/>
<rect x="488.20" y="374.10" width="24.40" height="14.40" fill="#107f80"/>
<rect x="488.20" y="363.40" width="24.40" height="10.70" fill="#40007f"/>
<rect x="488.20" y="353.20" width="24.40" height="10.20" fill="#aa66ff"/>
<rect x="488.20" y="345.30" width="24.40" height="7.90" fill="#66ccfe"/>
<rect x="488.20" y="338.80" width="24.40" height="6.50" fill="#000000"/>
<rect x="488.20" y="332.40" width="24.40" height="6.40" fill="#ff0066"/>
<rect x="488.20" y="328.10" width="24.40" height="4.30" fill="#107f80"/>
<rect x="488.20" y="324.70" width="24.40" height="3.40" fill="#40007f"/>
<rect x="488.20" y="321.00" width="24.40" height="3.70" fill="#aa66ff"/>
<rect x="488.20" y="317.30" width="24.40" height="3.70" fill="#66ccfe"/>
<rect x="488.20" y="314.60" width="24.40" height="2.70" fill="#000000"/>
<rect x="488.20" y="311.90" width="24.40" height="2.70" fill="#ff0066"/>
<rect x="488.20" y="309.20" width="24.40" height="2.70" fill="#107f80"/>
<rect x="488.20" y="306.40" width="24.40" height="2.80" fill="#40007f"/>
<rect x="488.20" y="304.10" width="24.40" height="2.30" fill="#aa66ff"/>
<rect x="488.20" y="301.00" width="24.40" height="3.10" fill="#66ccfe"/>
<rect x="488.20" y="299.00" width="24.40" height="2.00" fill="#000000"/>
<rect x="488.20" y="296.60" width="24.40" height="2.40" fill="#ff0066"/>
<rect x="488.20" y="294.60" width="24.40" height="2.00" fill="#107f80"/>
<rect x="488.20" y="292.50" width="24.40" height="2.10" fill="#40007f"/>
<rect x="488.20" y="290.80" width="24.40" height="1.70" fill="#aa66ff"/>
<rect x="488.20" y="288.30" width="24.40" height="2.50" fill="#66ccfe"/>
<rect x="488.20" y="287.20" width="24.40" height="1.10" fill="#000000"/>
<rect x="488.20" y="285.60" width="24.40" height="1.60" fill="#ff0066"/>
<rect x="488.20" y="285.20" width="24.40" height="0.40" fill="#107f80"/>
<rect x="488.20" y="284.80" width="24.40" height="0.40" fill="#40007f"/>
<rect x="488.20" y="252.70" width="24.40" height="32.10" fill="#aa66ff"/>
<rect x="520.30" y="406.80" width="24.30" height="16.60" fill="#000000"/>
<rect x="520.30" y="385.40" width="24.30" height="21.40" fill="#ff0066"/>
<rect x="520.30" y="372.40" width="24.30" height="13.00" fill="#107f80"/>
<rect x="520.30" y="365.10" width="24.30" height="7.30" fill="#40007f"/>
<rect x="520.30" y="359.20" width="24.30" height="5.90" fill="#aa66ff"/>
<rect x="520.30" y="352.00" width="24.30" height="7.20" fill="#66ccfe"/>
<rect x="520.30" y="346.10" width="24.30" height="5.90" fill="#000000"/>
<rect x="520.30" y="343.60" width="24.30" height="2.50" fill="#ff0066"/>
<rect x="520.30" y="338.50" width="24.30" height="5.10" fill="#107f80"/>
<rect x="520.30" y="333.70" width="24.30" height="4.80" fill="#40007f"/>
<rect x="520.30" y="328.10" width="24.30" height="5.60" fill="#aa66ff"/>
<rect x="520.30" y="324.10" width="24.30" height="4.00" fill="#66ccfe"/>
<rect x="520.30" y="322.00" width="24.30" height="2.10" fill="#000000"/>
<rect x="520.30" y="319.70" width="24.30" height="2.30" fill="#ff0066"/>
<rect x="520.30" y="315.10" width="24.30" height="4.60" fill="#107f80"/>
<rect x="520.30" y="313.20" width="24.30" height="1.90" fill="#40007f"/>
<rect x="520.30" y="310.00" width="24.30" height="3.20" fill="#aa66ff"/>
<rect x="520.30" y="306.10" width="24.30" height="3.90" fill="#66ccfe"/>
<rect x="520.30" y="303.70" width="24.30" height="2.40" fill="#000000"/>
<rect x="520.30" y="302.70" width="24.30" height="1.00" fill="#ff0066"/>
<rect x="520.30" y="300.30" width="24.30" height="2.40" fill="#107f80"/>
<rect x="520.30" y="298.00" width="24.30" height="2.30" fill="#40007f"/>
<rect x="520.30" y="296.30" width="24.30" height="1.70" fill="#aa66ff"/>
<rect x="520.30" y="293.10" width="24.30" height="3.20" fill="#66ccfe"/>
<rect x="520.30" y="291.70" width="24.30" height="1.40" fill="#000000"/>
<rect x="520.30" y="288.80" width="24.30" height="2.90" fill="#ff0066"/>
<rect x="520.30" y="281.20" width="24.30" height="7.60" fill="#107f80"/>
<rect x="520.30" y="281.10" width="24.30" height="0.10" fill="#40007f"/>
<rect x="520.30" y="252.70" width="24.30" height="28.40" fill="#aa66ff"/>
<line x1="450.60" y1="252.20" x2="450.60" y2="423.90" stroke="#000" stroke-width="0.9"/>
<line x1="450.10" y1="423.40" x2="549.50" y2="423.40" stroke="#111" stroke-width="1.0"/>
<line x1="450.60" y1="252.60" x2="447.30" y2="252.60" stroke="#111" stroke-width="0.9"/>
<text x="447.1" y="255.0" font-size="6.0" font-family="Liberation Serif, serif" font-weight="bold" text-anchor="end">100</text>
<line x1="450.60" y1="338.00" x2="447.30" y2="338.00" stroke="#111" stroke-width="0.9"/>
<text x="447.1" y="340.4" font-size="6.0" font-family="Liberation Serif, serif" font-weight="bold" text-anchor="end">50</text>
<line x1="450.60" y1="423.40" x2="447.30" y2="423.40" stroke="#111" stroke-width="0.9"/>
<text x="447.1" y="425.79999999999995" font-size="6.0" font-family="Liberation Serif, serif" font-weight="bold" text-anchor="end">0</text>
<line x1="468.45" y1="423.40" x2="468.45" y2="426.00" stroke="#000" stroke-width="0.9"/>
<text x="468.45000000000005" y="434.1" font-size="7.6" font-family="Liberation Serif, serif" font-weight="bold" text-anchor="middle" textLength="9.6" lengthAdjust="spacingAndGlyphs">M1</text>
<line x1="500.40" y1="423.40" x2="500.40" y2="426.00" stroke="#000" stroke-width="0.9"/>
<text x="500.4" y="434.1" font-size="7.6" font-family="Liberation Serif, serif" font-weight="bold" text-anchor="middle" textLength="9.6" lengthAdjust="spacingAndGlyphs">M3</text>
<line x1="532.45" y1="423.40" x2="532.45" y2="426.00" stroke="#000" stroke-width="0.9"/>
<text x="532.45" y="434.1" font-size="7.6" font-family="Liberation Serif, serif" font-weight="bold" text-anchor="middle" textLength="9.6" lengthAdjust="spacingAndGlyphs">M5</text>
<text x="438.7" y="337.9" font-size="10.7" font-family="Liberation Serif, serif" font-weight="bold" text-anchor="middle" textLength="111.0" lengthAdjust="spacingAndGlyphs" transform="rotate(-90 438.7 337.9)">Relative abundance (%)</text>
<rect x="555.20" y="233.70" width="9.00" height="5.00" fill="#aa66ff"/>
<text x="569.7" y="238.6" font-size="8.25" font-family="Liberation Serif, serif" font-weight="bold">others</text>
<rect x="555.20" y="240.80" width="9.00" height="5.00" fill="#66ccfe"/>
<text x="569.7" y="245.7" font-size="8.25" font-family="Liberation Serif, serif" font-weight="bold">Alloprevotella</text>
<rect x="555.20" y="247.70" width="9.00" height="5.00" fill="#aa66ff"/>
<text x="569.7" y="252.6" font-size="8.25" font-family="Liberation Serif, serif" font-weight="bold">Family XIII AD3011 group</text>
<rect x="555.20" y="254.90" width="9.00" height="5.00" fill="#40007f"/>
<text x="569.7" y="259.8" font-size="8.25" font-family="Liberation Serif, serif" font-weight="bold">Faecalibacterium</text>
<rect x="555.20" y="262.40" width="9.00" height="5.00" fill="#ff0066"/>
<text x="569.7" y="267.3" font-size="8.25" font-family="Liberation Serif, serif" font-weight="bold">Prevotellaceae UCG-003</text>
<rect x="555.20" y="269.70" width="9.00" height="5.00" fill="#000000"/>
<text x="569.7" y="274.6" font-size="8.25" font-family="Liberation Serif, serif" font-weight="bold">Oscillospira</text>
<rect x="555.20" y="276.80" width="9.00" height="5.00" fill="#aa66ff"/>
<text x="569.7" y="281.7" font-size="8.25" font-family="Liberation Serif, serif" font-weight="bold">Rikenellaceae RC9 gut group</text>
<rect x="555.20" y="283.90" width="9.00" height="5.00" fill="#66ccfe"/>
<text x="569.7" y="288.8" font-size="8.25" font-family="Liberation Serif, serif" font-weight="bold">Phascolarctobacterium</text>
<rect x="555.20" y="291.00" width="9.00" height="5.00" fill="#000000"/>
<text x="569.7" y="295.9" font-size="8.25" font-family="Liberation Serif, serif" font-weight="bold">Streptococcus</text>
<rect x="555.20" y="298.00" width="9.00" height="5.00" fill="#40007f"/>
<text x="569.7" y="302.9" font-size="8.25" font-family="Liberation Serif, serif" font-weight="bold">Prevotella 9</text>
<rect x="555.20" y="305.60" width="9.00" height="5.00" fill="#66ccfe"/>
<text x="569.7" y="310.5" font-size="8.25" font-family="Liberation Serif, serif" font-weight="bold">Ruminococcaceae UCG-005</text>
<rect x="555.20" y="312.70" width="9.00" height="5.00" fill="#aa66ff"/>
<text x="569.7" y="317.6" font-size="8.25" font-family="Liberation Serif, serif" font-weight="bold">Lachnospiraceae NK4A136 group</text>
<rect x="555.20" y="320.10" width="9.00" height="5.00" fill="#ff0066"/>
<text x="569.7" y="325.0" font-size="8.25" font-family="Liberation Serif, serif" font-weight="bold">Prevotellaceae NK3B31 group</text>
<rect x="555.20" y="327.50" width="9.00" height="5.00" fill="#107f80"/>
<text x="569.7" y="332.4" font-size="8.25" font-family="Liberation Serif, serif" font-weight="bold">unclassified Muribaculaceae</text>
<rect x="555.20" y="334.50" width="9.00" height="5.00" fill="#40007f"/>
<text x="569.7" y="339.4" font-size="8.25" font-family="Liberation Serif, serif" font-weight="bold">unclassified Lachnospiraceae</text>
<rect x="555.20" y="341.60" width="9.00" height="5.00" fill="#107f80"/>
<text x="569.7" y="346.5" font-size="8.25" font-family="Liberation Serif, serif" font-weight="bold">Lactobacillus</text>
<rect x="555.20" y="349.10" width="9.00" height="5.00" fill="#40007f"/>
<text x="569.7" y="354.0" font-size="8.25" font-family="Liberation Serif, serif" font-weight="bold">Lachnospiraceae AC2044 group</text>
<rect x="555.20" y="356.00" width="9.00" height="5.00" fill="#107f80"/>
<text x="569.7" y="360.9" font-size="8.25" font-family="Liberation Serif, serif" font-weight="bold">Megasphaera</text>
<rect x="555.20" y="363.20" width="9.00" height="5.00" fill="#ff0066"/>
<text x="569.7" y="368.1" font-size="8.25" font-family="Liberation Serif, serif" font-weight="bold">Oscillibacter</text>
<rect x="555.20" y="370.10" width="9.00" height="5.00" fill="#000000"/>
<text x="569.7" y="375.0" font-size="8.25" font-family="Liberation Serif, serif" font-weight="bold">Roseburia</text>
<rect x="555.20" y="377.40" width="9.00" height="5.00" fill="#ff0066"/>
<text x="569.7" y="382.3" font-size="8.25" font-family="Liberation Serif, serif" font-weight="bold">Ruminococcaceae UCG-014</text>
<rect x="555.20" y="384.40" width="9.00" height="5.00" fill="#40007f"/>
<text x="569.7" y="389.3" font-size="8.25" font-family="Liberation Serif, serif" font-weight="bold">Coprococcus 1</text>
<rect x="555.20" y="391.30" width="9.00" height="5.00" fill="#aa66ff"/>
<text x="569.7" y="396.2" font-size="8.25" font-family="Liberation Serif, serif" font-weight="bold">Agathobacter</text>
<rect x="555.20" y="398.70" width="9.00" height="5.00" fill="#107f80"/>
<text x="569.7" y="403.6" font-size="8.25" font-family="Liberation Serif, serif" font-weight="bold">Parabacteroides</text>
<rect x="555.20" y="405.50" width="9.00" height="5.00" fill="#ff0066"/>
<text x="569.7" y="410.4" font-size="8.25" font-family="Liberation Serif, serif" font-weight="bold">Prevotellaceae UCG-001</text>
<rect x="555.20" y="412.30" width="9.00" height="5.00" fill="#000000"/>
<text x="569.7" y="417.2" font-size="8.25" font-family="Liberation Serif, serif" font-weight="bold" textLength="134.4" lengthAdjust="spacingAndGlyphs">Eubacterium coprostanoligenes group</text>
<rect x="555.20" y="419.10" width="9.00" height="5.00" fill="#66ccfe"/>
<text x="569.7" y="424.0" font-size="8.25" font-family="Liberation Serif, serif" font-weight="bold">unclassified Ruminococcaceae</text>
<rect x="555.20" y="426.10" width="9.00" height="5.00" fill="#107f80"/>
<text x="569.7" y="431.0" font-size="8.25" font-family="Liberation Serif, serif" font-weight="bold">Bacteroides</text>
<rect x="555.20" y="433.00" width="9.00" height="5.00" fill="#000000"/>
<text x="569.7" y="437.9" font-size="8.25" font-family="Liberation Serif, serif" font-weight="bold">Prevotella 1</text>
<text x="431.0" y="455.6" font-size="11.5" font-family="Liberation Sans, sans-serif" font-weight="bold">I</text>
<text x="487.9" y="467.5" font-size="9.3" font-family="Liberation Serif, serif" font-weight="bold" textLength="22.6" lengthAdjust="spacingAndGlyphs">genus</text>
<rect x="454.40" y="607.70" width="24.60" height="35.40" fill="#000000"/>
<rect x="454.40" y="589.00" width="24.60" height="18.70" fill="#ff0066"/>
<rect x="454.40" y="576.30" width="24.60" height="12.70" fill="#107f80"/>
<rect x="454.40" y="570.10" width="24.60" height="6.20" fill="#40007f"/>
<rect x="454.40" y="564.00" width="24.60" height="6.10" fill="#aa66ff"/>
<rect x="454.40" y="558.40" width="24.60" height="5.60" fill="#66ccfe"/>
<rect x="454.40" y="552.70" width="24.60" height="5.70" fill="#000000"/>
<rect x="454.40" y="546.60" width="24.60" height="6.10" fill="#ff0066"/>
<rect x="454.40" y="542.00" width="24.60" height="4.60" fill="#107f80"/>
<rect x="454.40" y="537.50" width="24.60" height="4.50" fill="#40007f"/>
<rect x="454.40" y="534.10" width="24.60" height="3.40" fill="#aa66ff"/>
<rect x="454.40" y="531.00" width="24.60" height="3.10" fill="#66ccfe"/>
<rect x="454.40" y="528.00" width="24.60" height="3.00" fill="#000000"/>
<rect x="454.40" y="525.10" width="24.60" height="2.90" fill="#ff0066"/>
<rect x="454.40" y="522.90" width="24.60" height="2.20" fill="#107f80"/>
<rect x="454.40" y="520.80" width="24.60" height="2.10" fill="#40007f"/>
<rect x="454.40" y="519.20" width="24.60" height="1.60" fill="#aa66ff"/>
<rect x="454.40" y="516.80" width="24.60" height="2.40" fill="#66ccfe"/>
<rect x="454.40" y="515.40" width="24.60" height="1.40" fill="#000000"/>
<rect x="454.40" y="513.20" width="24.60" height="2.20" fill="#ff0066"/>
<rect x="454.40" y="511.90" width="24.60" height="1.30" fill="#107f80"/>
<rect x="454.40" y="509.80" width="24.60" height="2.10" fill="#40007f"/>
<rect x="454.40" y="507.70" width="24.60" height="2.10" fill="#aa66ff"/>
<rect x="454.40" y="506.90" width="24.60" height="0.80" fill="#66ccfe"/>
<rect x="454.40" y="506.00" width="24.60" height="0.90" fill="#000000"/>
<rect x="454.40" y="505.60" width="24.60" height="0.40" fill="#ff0066"/>
<rect x="454.40" y="478.10" width="24.60" height="27.50" fill="#107f80"/>
<rect x="486.90" y="596.20" width="24.70" height="46.90" fill="#000000"/>
<rect x="486.90" y="582.30" width="24.70" height="13.90" fill="#ff0066"/>
<rect x="486.90" y="576.30" width="24.70" height="6.00" fill="#107f80"/>
<rect x="486.90" y="573.00" width="24.70" height="3.30" fill="#40007f"/>
<rect x="486.90" y="566.10" width="24.70" height="6.90" fill="#aa66ff"/>
<rect x="486.90" y="562.70" width="24.70" height="3.40" fill="#66ccfe"/>
<rect x="486.90" y="558.40" width="24.70" height="4.30" fill="#000000"/>
<rect x="486.90" y="552.40" width="24.70" height="6.00" fill="#ff0066"/>
<rect x="486.90" y="548.10" width="24.70" height="4.30" fill="#107f80"/>
<rect x="486.90" y="548.00" width="24.70" height="0.10" fill="#40007f"/>
<rect x="486.90" y="543.20" width="24.70" height="4.80" fill="#aa66ff"/>
<rect x="486.90" y="539.80" width="24.70" height="3.40" fill="#66ccfe"/>
<rect x="486.90" y="536.10" width="24.70" height="3.70" fill="#000000"/>
<rect x="486.90" y="534.80" width="24.70" height="1.30" fill="#ff0066"/>
<rect x="486.90" y="531.90" width="24.70" height="2.90" fill="#107f80"/>
<rect x="486.90" y="530.70" width="24.70" height="1.20" fill="#40007f"/>
<rect x="486.90" y="528.70" width="24.70" height="2.00" fill="#aa66ff"/>
<rect x="486.90" y="526.80" width="24.70" height="1.90" fill="#66ccfe"/>
<rect x="486.90" y="525.30" width="24.70" height="1.50" fill="#000000"/>
<rect x="486.90" y="523.30" width="24.70" height="2.00" fill="#ff0066"/>
<rect x="486.90" y="521.10" width="24.70" height="2.20" fill="#107f80"/>
<rect x="486.90" y="519.80" width="24.70" height="1.30" fill="#40007f"/>
<rect x="486.90" y="516.90" width="24.70" height="2.90" fill="#aa66ff"/>
<rect x="486.90" y="515.60" width="24.70" height="1.30" fill="#66ccfe"/>
<rect x="486.90" y="513.10" width="24.70" height="2.50" fill="#000000"/>
<rect x="486.90" y="510.40" width="24.70" height="2.70" fill="#ff0066"/>
<rect x="486.90" y="478.10" width="24.70" height="32.30" fill="#107f80"/>
<rect x="519.20" y="600.10" width="24.60" height="43.00" fill="#000000"/>
<rect x="519.20" y="578.90" width="24.60" height="21.20" fill="#ff0066"/>
<rect x="519.20" y="570.90" width="24.60" height="8.00" fill="#107f80"/>
<rect x="519.20" y="566.20" width="24.60" height="4.70" fill="#40007f"/>
<rect x="519.20" y="558.40" width="24.60" height="7.80" fill="#aa66ff"/>
<rect x="519.20" y="550.10" width="24.60" height="8.30" fill="#66ccfe"/>
<rect x="519.20" y="543.90" width="24.60" height="6.20" fill="#000000"/>
<rect x="519.20" y="537.30" width="24.60" height="6.60" fill="#ff0066"/>
<rect x="519.20" y="534.10" width="24.60" height="3.20" fill="#107f80"/>
<rect x="519.20" y="532.10" width="24.60" height="2.00" fill="#40007f"/>
<rect x="519.20" y="529.10" width="24.60" height="3.00" fill="#aa66ff"/>
<rect x="519.20" y="526.40" width="24.60" height="2.70" fill="#66ccfe"/>
<rect x="519.20" y="524.10" width="24.60" height="2.30" fill="#000000"/>
<rect x="519.20" y="522.10" width="24.60" height="2.00" fill="#ff0066"/>
<rect x="519.20" y="519.90" width="24.60" height="2.20" fill="#107f80"/>
<rect x="519.20" y="519.00" width="24.60" height="0.90" fill="#40007f"/>
<rect x="519.20" y="516.50" width="24.60" height="2.50" fill="#aa66ff"/>
<rect x="519.20" y="513.90" width="24.60" height="2.60" fill="#66ccfe"/>
<rect x="519.20" y="512.70" width="24.60" height="1.20" fill="#000000"/>
<rect x="519.20" y="511.60" width="24.60" height="1.10" fill="#ff0066"/>
<rect x="519.20" y="509.60" width="24.60" height="2.00" fill="#107f80"/>
<rect x="519.20" y="508.50" width="24.60" height="1.10" fill="#40007f"/>
<rect x="519.20" y="505.50" width="24.60" height="3.00" fill="#aa66ff"/>
<rect x="519.20" y="504.70" width="24.60" height="0.80" fill="#66ccfe"/>
<rect x="519.20" y="503.30" width="24.60" height="1.40" fill="#000000"/>
<rect x="519.20" y="502.80" width="24.60" height="0.50" fill="#ff0066"/>
<rect x="519.20" y="478.10" width="24.60" height="24.70" fill="#107f80"/>
<line x1="449.60" y1="477.70" x2="449.60" y2="643.60" stroke="#000" stroke-width="0.9"/>
<line x1="449.10" y1="643.10" x2="548.50" y2="643.10" stroke="#111" stroke-width="1.0"/>
<line x1="449.60" y1="478.10" x2="446.30" y2="478.10" stroke="#111" stroke-width="0.9"/>
<text x="446.1" y="480.5" font-size="6.4" font-family="Liberation Serif, serif" font-weight="bold" text-anchor="end">100</text>
<line x1="449.60" y1="560.60" x2="446.30" y2="560.60" stroke="#111" stroke-width="0.9"/>
<text x="446.1" y="563.0" font-size="6.4" font-family="Liberation Serif, serif" font-weight="bold" text-anchor="end">50</text>
<line x1="449.60" y1="643.10" x2="446.30" y2="643.10" stroke="#111" stroke-width="0.9"/>
<text x="446.1" y="645.5" font-size="6.4" font-family="Liberation Serif, serif" font-weight="bold" text-anchor="end">0</text>
<line x1="466.70" y1="643.10" x2="466.70" y2="645.70" stroke="#000" stroke-width="0.9"/>
<text x="466.7" y="652.5" font-size="7.6" font-family="Liberation Serif, serif" font-weight="bold" text-anchor="middle" textLength="9.6" lengthAdjust="spacingAndGlyphs">M1</text>
<line x1="499.25" y1="643.10" x2="499.25" y2="645.70" stroke="#000" stroke-width="0.9"/>
<text x="499.25" y="652.5" font-size="7.6" font-family="Liberation Serif, serif" font-weight="bold" text-anchor="middle" textLength="9.6" lengthAdjust="spacingAndGlyphs">M3</text>
<line x1="531.50" y1="643.10" x2="531.50" y2="645.70" stroke="#000" stroke-width="0.9"/>
<text x="531.5" y="652.5" font-size="7.6" font-family="Liberation Serif, serif" font-weight="bold" text-anchor="middle" textLength="9.6" lengthAdjust="spacingAndGlyphs">M5</text>
<text x="438.1" y="560.6" font-size="10.3" font-family="Liberation Serif, serif" font-weight="bold" text-anchor="middle" textLength="107.0" lengthAdjust="spacingAndGlyphs" transform="rotate(-90 438.1 560.6)">Relative abundance (%)</text>
<rect x="555.90" y="460.70" width="9.00" height="5.00" fill="#107f80"/>
<text x="570.4" y="465.6" font-size="8.3" font-family="Liberation Serif, serif" font-weight="bold">others</text>
<rect x="555.90" y="468.50" width="9.00" height="5.00" fill="#66ccfe"/>
<text x="570.4" y="473.4" font-size="8.3" font-family="Liberation Serif, serif" font-weight="bold">Ruminococcaceae UCG 008</text>
<rect x="555.90" y="476.20" width="9.00" height="5.00" fill="#aa66ff"/>
<text x="570.4" y="481.1" font-size="8.3" font-family="Liberation Serif, serif" font-weight="bold" textLength="112.4" lengthAdjust="spacingAndGlyphs">Ruminococcus gauvreauii group</text>
<rect x="555.90" y="483.70" width="9.00" height="5.00" fill="#40007f"/>
<text x="570.4" y="488.6" font-size="8.3" font-family="Liberation Serif, serif" font-weight="bold">Prevotellaceae UCG 003</text>
<rect x="555.90" y="490.60" width="9.00" height="5.00" fill="#ff0066"/>
<text x="570.4" y="495.5" font-size="8.3" font-family="Liberation Serif, serif" font-weight="bold">Rikenellaceae RC9 gut group</text>
<rect x="555.90" y="497.40" width="9.00" height="5.00" fill="#000000"/>
<text x="570.4" y="502.3" font-size="8.3" font-family="Liberation Serif, serif" font-weight="bold">unculturedMuribaculaceae</text>
<rect x="555.90" y="504.20" width="9.00" height="5.00" fill="#aa66ff"/>
<text x="570.4" y="509.1" font-size="8.3" font-family="Liberation Serif, serif" font-weight="bold">Clostridium sensu stricto 1</text>
<rect x="555.90" y="511.30" width="9.00" height="5.00" fill="#66ccfe"/>
<text x="570.4" y="516.2" font-size="8.3" font-family="Liberation Serif, serif" font-weight="bold">Ruminococcaceae UCG 014</text>
<rect x="555.90" y="518.20" width="9.00" height="5.00" fill="#000000"/>
<text x="570.4" y="523.1" font-size="8.3" font-family="Liberation Serif, serif" font-weight="bold">Blautia</text>
<rect x="555.90" y="525.00" width="9.00" height="5.00" fill="#40007f"/>
<text x="570.4" y="529.9" font-size="8.3" font-family="Liberation Serif, serif" font-weight="bold">Alloprevotella</text>
<rect x="555.90" y="531.70" width="9.00" height="5.00" fill="#66ccfe"/>
<text x="570.4" y="536.6" font-size="8.3" font-family="Liberation Serif, serif" font-weight="bold">Bacteroides</text>
<rect x="555.90" y="538.70" width="9.00" height="5.00" fill="#aa66ff"/>
<text x="570.4" y="543.6" font-size="8.3" font-family="Liberation Serif, serif" font-weight="bold">unculturedLachnospiraceae</text>
<rect x="555.90" y="545.70" width="9.00" height="5.00" fill="#ff0066"/>
<text x="570.4" y="550.6" font-size="8.3" font-family="Liberation Serif, serif" font-weight="bold">Lactobacillus</text>
<rect x="555.90" y="552.30" width="9.00" height="5.00" fill="#107f80"/>
<text x="570.4" y="557.2" font-size="8.3" font-family="Liberation Serif, serif" font-weight="bold">Prevotellaceae NK3B31 group</text>
<rect x="555.90" y="558.80" width="9.00" height="5.00" fill="#40007f"/>
<text x="570.4" y="563.7" font-size="8.3" font-family="Liberation Serif, serif" font-weight="bold">Megasphaera</text>
<rect x="555.90" y="565.90" width="9.00" height="5.00" fill="#107f80"/>
<text x="570.4" y="570.8" font-size="8.3" font-family="Liberation Serif, serif" font-weight="bold">Terrisporobacter</text>
<rect x="555.90" y="573.20" width="9.00" height="5.00" fill="#ff0066"/>
<text x="570.4" y="578.1" font-size="8.3" font-family="Liberation Serif, serif" font-weight="bold">Collinsella</text>
<rect x="555.90" y="580.30" width="9.00" height="5.00" fill="#000000"/>
<text x="570.4" y="585.2" font-size="8.3" font-family="Liberation Serif, serif" font-weight="bold" textLength="118.9" lengthAdjust="spacingAndGlyphs">Lachnospiraceae NK4A136 group</text>
<rect x="555.90" y="587.60" width="9.00" height="5.00" fill="#ff0066"/>
<text x="570.4" y="592.5" font-size="8.3" font-family="Liberation Serif, serif" font-weight="bold">Ruminococcaceae UCG 005</text>
<rect x="555.90" y="594.80" width="9.00" height="5.00" fill="#40007f"/>
<text x="570.4" y="599.7" font-size="8.3" font-family="Liberation Serif, serif" font-weight="bold">Coprococcus 3</text>
<rect x="555.90" y="602.20" width="9.00" height="5.00" fill="#aa66ff"/>
<text x="570.4" y="607.1" font-size="8.3" font-family="Liberation Serif, serif" font-weight="bold">Faecalibacterium</text>
<rect x="555.90" y="609.30" width="9.00" height="5.00" fill="#107f80"/>
<text x="570.4" y="614.2" font-size="8.3" font-family="Liberation Serif, serif" font-weight="bold">unculturedRuminococcaceae</text>
<rect x="555.90" y="616.30" width="9.00" height="5.00" fill="#ff0066"/>
<text x="570.4" y="621.2" font-size="8.3" font-family="Liberation Serif, serif" font-weight="bold">Coprococcus 1</text>
<rect x="555.90" y="623.40" width="9.00" height="5.00" fill="#000000"/>
<text x="570.4" y="628.3" font-size="8.3" font-family="Liberation Serif, serif" font-weight="bold">Oscillibacter</text>
<rect x="555.90" y="630.50" width="9.00" height="5.00" fill="#66ccfe"/>
<text x="570.4" y="635.4" font-size="8.3" font-family="Liberation Serif, serif" font-weight="bold">Prevotella 9</text>
<rect x="555.90" y="637.50" width="9.00" height="5.00" fill="#107f80"/>
<text x="570.4" y="642.4" font-size="8.3" font-family="Liberation Serif, serif" font-weight="bold">Prevotella 1</text>
<rect x="555.90" y="644.70" width="9.00" height="5.00" fill="#000000"/>
<text x="570.4" y="649.6" font-size="8.3" font-family="Liberation Serif, serif" font-weight="bold">Streptococcus</text>
</svg></body></html>
